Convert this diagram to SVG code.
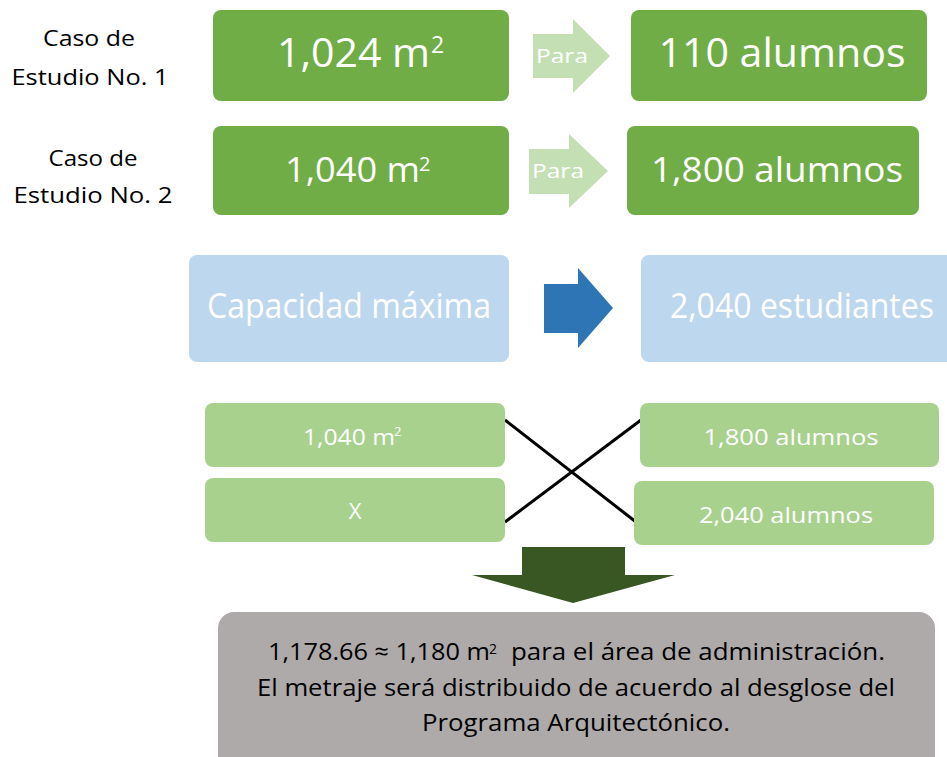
<svg xmlns="http://www.w3.org/2000/svg" width="947" height="757" viewBox="0 0 947 757">
<style>
text{font-family:"Open Sans","Liberation Sans",sans-serif;text-anchor:middle}
text.s{text-anchor:start}
.g{fill:#70AD47}
.lg{fill:#A9D18E}
.lb{fill:#BDD7EE}
.w{fill:#FFFFFF}
.k{fill:#000000}
.la{fill:#C5DFB4}
.lbl{fill:#000000;font-size:22px}
</style>
<rect width="947" height="757" fill="#FFFFFF"/>
<g id="label1">
<text class="lbl" x="89" y="46" textLength="92" lengthAdjust="spacingAndGlyphs">Caso de</text>
<text class="lbl" x="90" y="85" textLength="157" lengthAdjust="spacingAndGlyphs">Estudio No. 1</text>
</g>
<g id="label2">
<text class="lbl" x="93" y="166" textLength="89" lengthAdjust="spacingAndGlyphs">Caso de</text>
<text class="lbl" x="93" y="203" textLength="159" lengthAdjust="spacingAndGlyphs">Estudio No. 2</text>
</g>
<g id="area1">
<rect class="g" x="213" y="10" width="296" height="91" rx="8"/>
<text class="w s" x="277" y="67" font-size="40" textLength="153" lengthAdjust="spacingAndGlyphs">1,024 m</text>
<text class="w s" x="431" y="53" font-size="23">2</text>
</g>
<g id="para1">
<polygon class="la" points="533,34 573,34 573,19 610,56 573,93 573,78 533,78"/>
<text class="w" x="562" y="63" font-size="20" textLength="52" lengthAdjust="spacingAndGlyphs">Para</text>
</g>
<g id="alum1">
<rect class="g" x="631" y="10" width="296" height="91" rx="8"/>
<text class="w" x="782" y="67" font-size="40" textLength="247" lengthAdjust="spacingAndGlyphs">110 alumnos</text>
</g>
<g id="area2">
<rect class="g" x="213" y="126" width="296" height="89" rx="8"/>
<text class="w s" x="285" y="182" font-size="35" textLength="135" lengthAdjust="spacingAndGlyphs">1,040 m</text>
<text class="w s" x="419" y="171" font-size="20">2</text>
</g>
<g id="para2">
<polygon class="la" points="529,149 569,149 569,134 608,171 569,208 569,194 529,194"/>
<text class="w" x="558" y="178" font-size="20" textLength="52" lengthAdjust="spacingAndGlyphs">Para</text>
</g>
<g id="alum2">
<rect class="g" x="627" y="126" width="292" height="89" rx="8"/>
<text class="w" x="777" y="182" font-size="35" textLength="252" lengthAdjust="spacingAndGlyphs">1,800 alumnos</text>
</g>
<g id="capacidad">
<rect class="lb" x="189" y="255" width="320" height="107" rx="8"/>
<text class="w" x="349" y="318" font-size="34" textLength="284" lengthAdjust="spacingAndGlyphs">Capacidad máxima</text>
</g>
<g id="bluearrow">
<polygon fill="#2E75B6" points="544,284 578,284 578,268 613,308 578,348 578,333 544,333"/>
</g>
<g id="estudiantes">
<rect class="lb" x="641" y="255" width="316" height="107" rx="8"/>
<text class="w" x="802" y="318" font-size="34" textLength="264" lengthAdjust="spacingAndGlyphs">2,040 estudiantes</text>
</g>
<g id="connectors">
<line x1="505" y1="420" x2="636" y2="522" stroke="#000000" stroke-width="3"/>
<line x1="505" y1="522" x2="641" y2="420" stroke="#000000" stroke-width="3"/>
</g>
<g id="r1040">
<rect class="lg" x="205" y="403" width="300" height="64" rx="8"/>
<text class="w s" x="303" y="445" font-size="22" textLength="92" lengthAdjust="spacingAndGlyphs">1,040 m</text>
<text class="w s" x="394" y="436" font-size="13">2</text>
</g>
<g id="rX">
<rect class="lg" x="205" y="478" width="300" height="64" rx="8"/>
<text class="w" x="355" y="519" font-size="22">X</text>
</g>
<g id="r1800">
<rect class="lg" x="640" y="403" width="299" height="64" rx="8"/>
<text class="w" x="791" y="445" font-size="22" textLength="175" lengthAdjust="spacingAndGlyphs">1,800 alumnos</text>
</g>
<g id="r2040">
<rect class="lg" x="634" y="481" width="300" height="64" rx="8"/>
<text class="w" x="786" y="523" font-size="22" textLength="174" lengthAdjust="spacingAndGlyphs">2,040 alumnos</text>
</g>
<g id="downarrow">
<polygon fill="#385723" points="522,547 625,547 625,575 675,575 573,603 472,575 522,575"/>
</g>
<g id="result">
<rect fill="#AEAAAA" x="218" y="612" width="717" height="160" rx="16"/>
<text class="k s" x="268" y="660" font-size="24" textLength="222" lengthAdjust="spacingAndGlyphs">1,178.66 ≈ 1,180 m</text>
<text class="k s" x="489" y="654" font-size="14">2</text>
<text class="k s" x="511" y="660" font-size="24" textLength="374" lengthAdjust="spacingAndGlyphs">para el área de administración.</text>
<text class="k" x="576" y="696" font-size="24" textLength="638" lengthAdjust="spacingAndGlyphs">El metraje será distribuido de acuerdo al desglose del</text>
<text class="k" x="576" y="731" font-size="24" textLength="308" lengthAdjust="spacingAndGlyphs">Programa Arquitectónico.</text>
</g>
</svg>
